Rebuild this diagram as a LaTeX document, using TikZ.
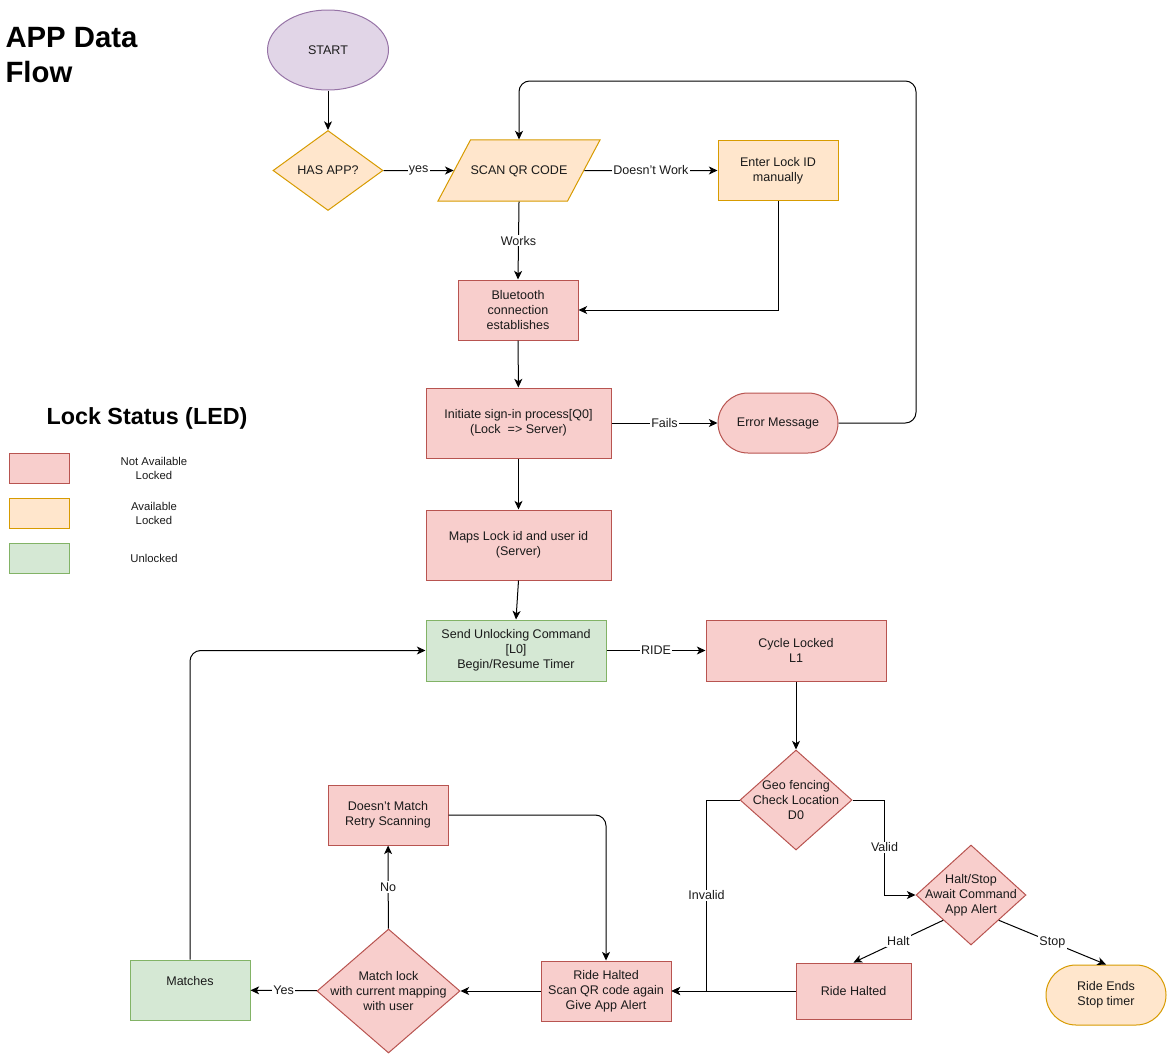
\documentclass[tikz,border=0pt]{standalone}
\usepackage{fontspec}
\setmainfont{Liberation Sans}
\usetikzlibrary{shapes.geometric, arrows.meta}

\definecolor{redfill}{HTML}{F8CECC}
\definecolor{redline}{HTML}{B85450}
\definecolor{orfill}{HTML}{FFE6CC}
\definecolor{orline}{HTML}{D79B00}
\definecolor{grfill}{HTML}{D5E8D4}
\definecolor{grline}{HTML}{82B366}
\definecolor{pufill}{HTML}{E1D5E7}
\definecolor{puline}{HTML}{9673A6}
\definecolor{ink}{HTML}{1A1A1A}

\tikzset{
  dtext/.style={align=center, text=ink, font=\fontsize{9.4}{11.25}\selectfont},
  base/.style={dtext, draw, inner sep=1pt},
  notavail/.style={base, rectangle, fill=redfill, draw=redline},
  avail/.style={base, rectangle, fill=orfill, draw=orline},
  unlocked/.style={base, rectangle, fill=grfill, draw=grline},
  wh/.style 2 args={minimum width=#1*0.75pt, minimum height=#2*0.75pt},
  pill/.style={rounded corners=22.5pt},
  decision/.style={diamond, inner sep=0pt, label={[dtext]center:#1}},
  arr/.style={draw=black, -{Stealth[length=6.5pt,width=6pt,inset=1.8pt]}},
  lbl/.style={fill=white, inner sep=1pt, text=ink, font=\fontsize{9.4}{11.25}\selectfont}
}

\begin{document}
\begin{tikzpicture}[x=0.75pt, y=-0.75pt, line width=0.75pt]
\useasboundingbox (0,0) rectangle (1167,1053);

% title
\node[anchor=north west, inner sep=0pt, align=left, text=black, font=\bfseries\fontsize{22}{26}\selectfont] (title) at (5,27) {APP Data\\Flow};

% legend
\node[text=black, font=\bfseries\fontsize{17.5}{21}\selectfont] (legtitle) at (147,418) {Lock Status (LED)};
\foreach \y/\fl/\ln/\txt [count=\i] in {468/redfill/redline/{Not Available\\Locked}, 513/orfill/orline/{Available\\Locked}, 558/grfill/grline/Unlocked} {
  \node[draw=\ln, fill=\fl, wh={60}{30}] (legbox\i) at (39,\y) {};
  \node[align=center, text=ink, font=\fontsize{8.5}{10.5}\selectfont] (legtxt\i) at (154,\y) {\txt};
}

% top part
\node[base, ellipse, fill=pufill, draw=puline, wh={121}{80}] (start) at (328,50) {START};
\node[avail, diamond, inner sep=0pt, wh={110}{80}] (has) at (328,170.5) {HAS APP?};
\node[avail, trapezium, trapezium left angle=62, trapezium right angle=118, trapezium stretches body,
      text height=7pt, text depth=1pt, inner ysep=18.9pt, inner xsep=0pt, minimum width=121.5pt] (scan) at (519,170.5) {SCAN QR CODE};
\node[avail, wh={120}{60}] (enter) at (778,170.5) {Enter Lock ID\\manually};
\node[notavail, wh={120}{60}] (bt) at (518,310) {Bluetooth\\connection\\establishes};
\node[notavail, wh={185}{70}] (init) at (518.5,423) {Initiate sign-in process[Q0]\\(Lock\ \ => Server)};
\node[notavail, pill, wh={120}{60}] (err) at (778,423) {Error Message};
\node[notavail, wh={185}{70}] (maps) at (518.5,545) {Maps Lock id and user id\\(Server)};
\coordinate (loopcorner) at (916,81);

% ride part
\node[unlocked, wh={180}{61}] (send) at (516,650.5) {Send Unlocking Command\\{[L0]}\\Begin/Resume Timer};
\node[notavail, wh={180}{61}] (cycle) at (796,650.5) {Cycle Locked\\L1};
\node[notavail, decision={Geo fencing\\Check Location\\D0}, wh={112}{100}] (geo) at (796,800) {};
\node[notavail, decision={Halt/Stop\\Await Command\\App Alert}, wh={110}{100}] (hs) at (971,895) {};
\node[notavail, wh={115}{56}] (rh) at (853.5,991) {Ride Halted};
\node[avail, pill, wh={120}{60}] (re) at (1106,995) {Ride Ends\\Stop timer};

% halted part
\node[notavail, wh={130}{60}] (halt2) at (606,991) {Ride Halted\\Scan QR code again\\Give App Alert};
\node[notavail, decision={Match lock\\with current mapping\\with user}, wh={143}{124}] (ml) at (388.5,991) {};
\node[notavail, wh={120}{60}] (dm) at (388,815) {Doesn't Match\\Retry Scanning};
\node[unlocked, wh={120}{60}, text depth=14pt] (mt) at (190,990) {Matches};

% edges
\draw[arr] (start) -- (has);
\draw[arr] (has.east) -- node[lbl]{yes} (scan.west);
\draw[arr] (scan.east) -- node[lbl]{Doesn't Work} (enter.west);
\draw[arr] (scan.south) -- node[lbl]{Works} (bt.north);
\draw[arr] (enter.south) |- (bt.east);
\draw[arr] (bt) -- (init);
\draw[arr] (init) -- node[lbl]{Fails} (err);
\draw[arr, rounded corners=8pt] (err.east) -| (loopcorner) -| (scan.north);
\draw[arr] (init) -- (maps);
\draw[arr] (maps.south) -- (send.north);
\draw[arr] (send) -- node[lbl]{RIDE} (cycle);
\draw[arr] (cycle) -- (geo);
\draw[arr] (geo.east) -- ++(32,0) |- node[lbl, pos=0.25]{Valid} (hs.west);
\draw[arr] (geo.west) -- ++(-33,0) |- node[lbl, pos=0.25]{Invalid} (halt2.east);
\draw[arr] (hs.south west) -- node[lbl]{Halt} (rh.north);
\draw[arr] (hs.south east) -- node[lbl]{Stop} (re.north);
\draw[arr] (rh.west) -- (halt2.east);
\draw[arr] (halt2) -- (ml);
\draw[arr] (ml) -- node[lbl]{No} (dm);
\draw[arr] (ml) -- node[lbl]{Yes} (mt);
\draw[arr, rounded corners=8pt] (dm.east) -| (halt2.north);
\draw[arr, rounded corners=8pt] (mt.north) |- (send.west);
\end{tikzpicture}
\end{document}
